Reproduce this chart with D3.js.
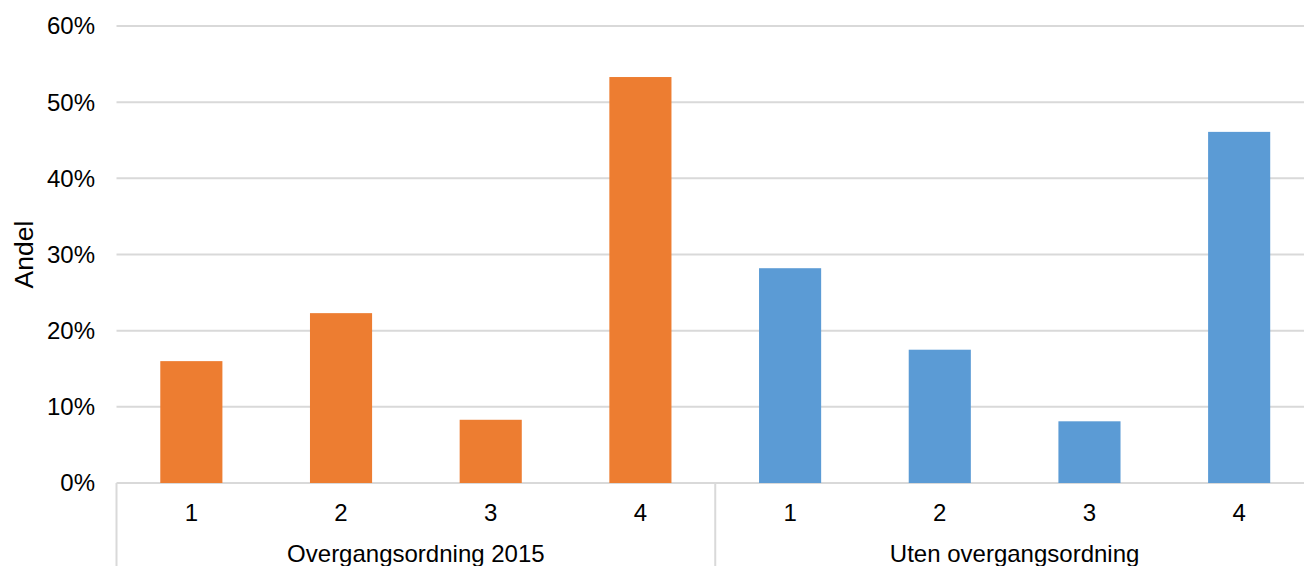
<!DOCTYPE html>
<html>
<head>
<meta charset="utf-8">
<script src="https://cdn.jsdelivr.net/npm/d3@7"></script>
<style>
    body { margin: 0; background: #fff; }
    svg { display: block; font-family: 'Liberation Sans', Arial, sans-serif; }
</style>
</head>
<body>
<div id="chart"></div>
<script>
const groups = ['Overgangsordning 2015', 'Uten overgangsordning'];
const categories = ['1', '2', '3', '4'];
const overgangValues = [16.0, 22.3, 8.3, 53.3];
const utenValues = [28.2, 17.5, 8.1, 46.1];
const groupColors = ['#ED7D31', '#5B9BD5'];
const yTicks = [0, 10, 20, 30, 40, 50, 60];

const width = 1304;
const height = 566;
const margin = { top: 26, right: -10, bottom: 83, left: 116.5 };
const innerWidth = width - margin.left - margin.right;
const innerHeight = height - margin.top - margin.bottom;
const fontSize = 24;

const seriesValues = [overgangValues, utenValues];

const svg = d3.select('#chart')
    .append('svg')
    .attr('width', width)
    .attr('height', height);

const g = svg.append('g')
    .attr('transform', `translate(${margin.left}, ${margin.top})`);

const xGroup = d3.scaleBand()
    .domain(groups)
    .range([0, innerWidth]);

const xCat = d3.scaleBand()
    .domain(categories)
    .range([0, xGroup.bandwidth()])
    .paddingInner(0.585)
    .paddingOuter(0.2925);

const yScale = d3.scaleLinear()
    .domain([0, 60])
    .range([innerHeight, 0]);

// Gridlines
g.selectAll('.grid')
    .data(yTicks)
    .enter().append('line')
    .attr('class', 'grid')
    .attr('x1', 0)
    .attr('x2', innerWidth)
    .attr('y1', d => yScale(d))
    .attr('y2', d => yScale(d))
    .attr('stroke', '#d9d9d9')
    .attr('stroke-width', 2);

// Y labels
g.selectAll('.ylabel')
    .data(yTicks)
    .enter().append('text')
    .attr('class', 'ylabel')
    .attr('x', -21.5)
    .attr('y', d => yScale(d))
    .attr('dy', '0.35em')
    .attr('text-anchor', 'end')
    .attr('font-size', fontSize)
    .attr('fill', '#000')
    .text(d => d + '%');

// Bars
groups.forEach((grp, gi) => {
    const gg = g.append('g')
        .attr('transform', `translate(${xGroup(grp)}, 0)`);
    gg.selectAll('rect')
        .data(categories.map((c, i) => ({ cat: c, value: seriesValues[gi][i] })))
        .enter().append('rect')
        .attr('x', d => xCat(d.cat))
        .attr('width', xCat.bandwidth())
        .attr('y', d => yScale(d.value))
        .attr('height', d => innerHeight - yScale(d.value))
        .attr('fill', groupColors[gi]);

    gg.selectAll('.catlabel')
        .data(categories)
        .enter().append('text')
        .attr('class', 'catlabel')
        .attr('x', d => xCat(d) + xCat.bandwidth() / 2)
        .attr('y', innerHeight + 38)
        .attr('text-anchor', 'middle')
        .attr('font-size', fontSize)
        .text(d => d);

    gg.append('text')
        .attr('x', xGroup.bandwidth() / 2)
        .attr('y', innerHeight + 79)
        .attr('text-anchor', 'middle')
        .attr('font-size', fontSize)
        .text(grp);
});

// Group separators
g.selectAll('.sep')
    .data(groups)
    .enter().append('line')
    .attr('class', 'sep')
    .attr('x1', d => xGroup(d))
    .attr('x2', d => xGroup(d))
    .attr('y1', innerHeight)
    .attr('y2', height - margin.top)
    .attr('stroke', '#d9d9d9')
    .attr('stroke-width', 2);

// Y axis title
svg.append('text')
    .attr('transform', `translate(33, ${margin.top + innerHeight / 2}) rotate(-90)`)
    .attr('text-anchor', 'middle')
    .attr('font-size', 26.5)
    .text('Andel');
</script>
</body>
</html>
